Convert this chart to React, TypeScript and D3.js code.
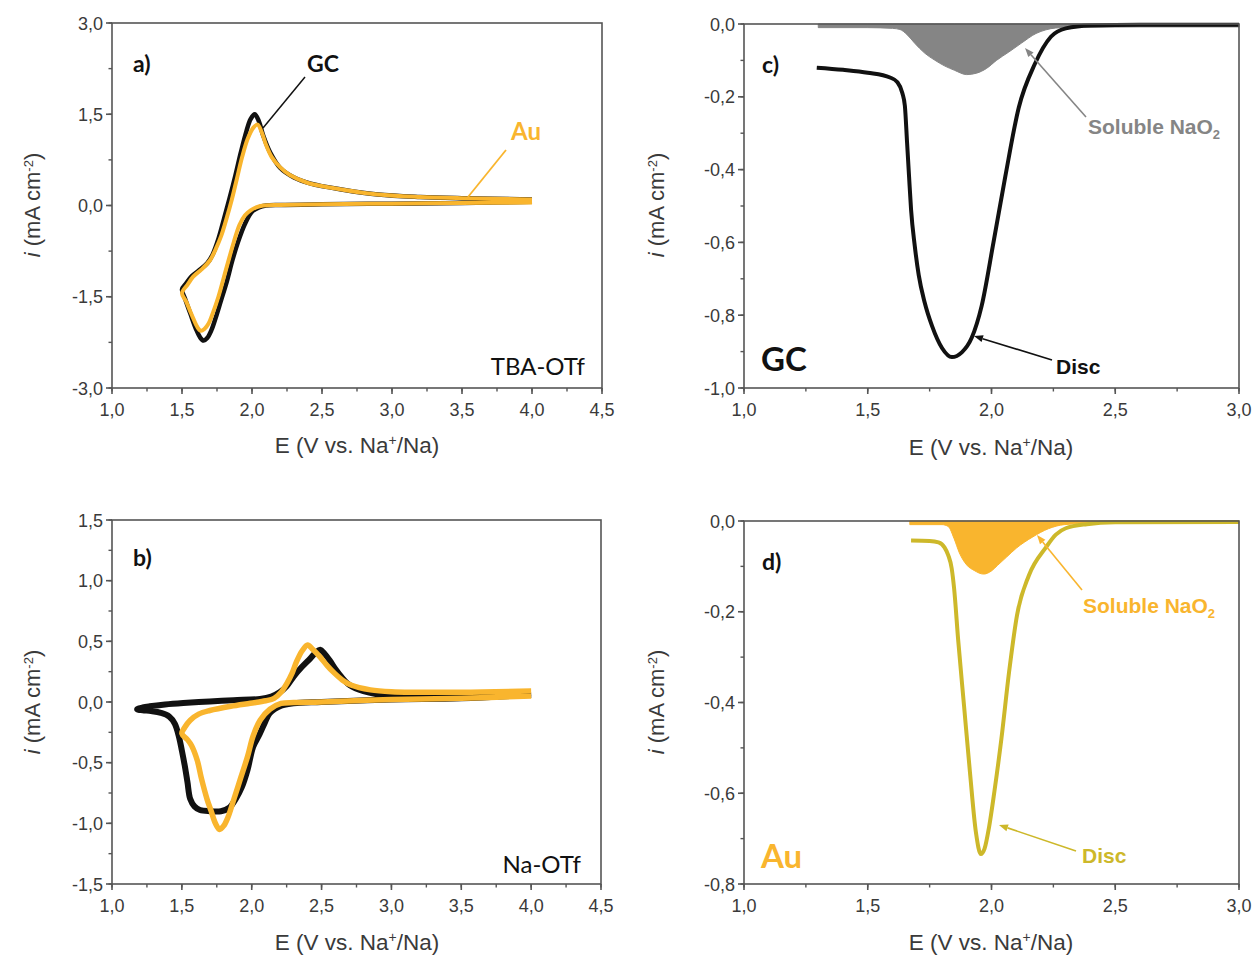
import React from "react";
import * as d3 from "d3";

// ---------------- DATA ----------------
// Panel a (TBA-OTf) CV loops: [E, i]
const aGC: [number, number][] = [
  [4.0, 0.06], [3.5, 0.04], [3.0, 0.03], [2.5, 0.02], [2.2, 0.01], [2.1, 0.0], [2.05, -0.03],
  [2.0, -0.1], [1.95, -0.3], [1.9, -0.6], [1.86, -0.9], [1.82, -1.25], [1.78, -1.55], [1.74, -1.85],
  [1.71, -2.05], [1.68, -2.18], [1.655, -2.22], [1.63, -2.17], [1.6, -2.03], [1.56, -1.78], [1.52, -1.52], [1.5, -1.38],
  [1.53, -1.28], [1.57, -1.16], [1.62, -1.07], [1.68, -0.95], [1.72, -0.8], [1.76, -0.55], [1.8, -0.22],
  [1.84, 0.12], [1.88, 0.48], [1.92, 0.87], [1.96, 1.22], [1.99, 1.42], [2.02, 1.5], [2.05, 1.38],
  [2.08, 1.15], [2.13, 0.87], [2.2, 0.62], [2.3, 0.46], [2.42, 0.36], [2.65, 0.26], [2.9, 0.18],
  [3.2, 0.14], [3.5, 0.12], [4.0, 0.1],
];
const aAu: [number, number][] = [
  [4.0, 0.05], [3.5, 0.04], [3.0, 0.03], [2.5, 0.02], [2.2, 0.01], [2.08, 0.0], [2.03, -0.03],
  [1.99, -0.08], [1.95, -0.16], [1.91, -0.32], [1.87, -0.6], [1.84, -0.84], [1.8, -1.17], [1.76, -1.5],
  [1.72, -1.77], [1.69, -1.94], [1.66, -2.03], [1.635, -2.06], [1.61, -2.0], [1.57, -1.8], [1.53, -1.58], [1.5, -1.44],
  [1.54, -1.3], [1.58, -1.17], [1.64, -1.05], [1.7, -0.9], [1.74, -0.72], [1.78, -0.5], [1.82, -0.2],
  [1.855, 0.09], [1.89, 0.42], [1.93, 0.8], [1.97, 1.1], [2.01, 1.28], [2.04, 1.33], [2.07, 1.2],
  [2.1, 1.0], [2.14, 0.8], [2.2, 0.63], [2.27, 0.5], [2.4, 0.37], [2.65, 0.26], [2.9, 0.18],
  [3.2, 0.14], [3.5, 0.12], [4.0, 0.1],
];

// Panel b (Na-OTf) CV loops
const bGC: [number, number][] = [
  [4.0, 0.06], [3.5, 0.03], [3.0, 0.02], [2.5, 0.0], [2.3, -0.01], [2.21, -0.03], [2.13, -0.09],
  [2.09, -0.18], [2.05, -0.28], [2.01, -0.37], [1.97, -0.56], [1.93, -0.7], [1.89, -0.79], [1.84, -0.87],
  [1.78, -0.9], [1.7, -0.9], [1.63, -0.89], [1.59, -0.86], [1.56, -0.8], [1.54, -0.66], [1.52, -0.52],
  [1.5, -0.4], [1.48, -0.29], [1.45, -0.18], [1.41, -0.12], [1.35, -0.09], [1.28, -0.075], [1.22, -0.068], [1.18, -0.06],
  [1.22, -0.045], [1.27, -0.035], [1.38, -0.02], [1.51, -0.008], [1.7, 0.005], [1.87, 0.015], [2.06, 0.025],
  [2.14, 0.045], [2.2, 0.08], [2.25, 0.13], [2.3, 0.21], [2.36, 0.29], [2.42, 0.36], [2.46, 0.41],
  [2.49, 0.43], [2.52, 0.4], [2.56, 0.34], [2.6, 0.27], [2.64, 0.21], [2.7, 0.14], [2.8, 0.09],
  [3.0, 0.05], [3.5, 0.04], [4.0, 0.07],
];
const bAu: [number, number][] = [
  [4.0, 0.05], [3.5, 0.03], [3.0, 0.02], [2.5, 0.0], [2.3, -0.005], [2.21, -0.012], [2.13, -0.06],
  [2.06, -0.15], [2.01, -0.28], [1.97, -0.45], [1.92, -0.63], [1.87, -0.81], [1.83, -0.95], [1.8, -1.02],
  [1.77, -1.05], [1.74, -1.0], [1.71, -0.9], [1.68, -0.8], [1.64, -0.63], [1.61, -0.48], [1.57, -0.36],
  [1.54, -0.31], [1.5, -0.26],
  [1.52, -0.21], [1.56, -0.15], [1.62, -0.1], [1.7, -0.07], [1.85, -0.035], [1.99, -0.01], [2.1, 0.01],
  [2.16, 0.03], [2.21, 0.08], [2.25, 0.15], [2.29, 0.24], [2.32, 0.33], [2.36, 0.42], [2.4, 0.47],
  [2.44, 0.43], [2.49, 0.37], [2.54, 0.3], [2.59, 0.24], [2.65, 0.18], [2.71, 0.14], [2.85, 0.1],
  [3.0, 0.085], [3.5, 0.08], [4.0, 0.09],
];

// Panel c (GC RRDE)
const cDisc: [number, number][] = [
  [1.294, -0.12], [1.4, -0.126], [1.5, -0.134], [1.59, -0.147], [1.62, -0.16], [1.64, -0.19],
  [1.65, -0.225], [1.659, -0.327], [1.667, -0.42], [1.675, -0.51], [1.69, -0.61], [1.706, -0.69],
  [1.73, -0.765], [1.76, -0.83], [1.8, -0.89], [1.84, -0.915], [1.88, -0.902], [1.92, -0.862],
  [1.96, -0.775], [2.008, -0.6], [2.056, -0.418], [2.11, -0.23], [2.175, -0.11], [2.24, -0.035],
  [2.3, -0.012], [2.4, -0.004], [2.6, -0.002], [3.0, -0.002],
];
const cSoluble: [number, number][] = [
  [1.3, -0.01], [1.5, -0.01], [1.6, -0.012], [1.63, -0.015], [1.66, -0.03], [1.69, -0.053],
  [1.73, -0.08], [1.77, -0.099], [1.81, -0.115], [1.85, -0.127], [1.9, -0.139], [1.94, -0.135],
  [1.98, -0.122], [2.02, -0.1], [2.07, -0.077], [2.12, -0.053], [2.18, -0.026], [2.22, -0.016],
  [2.26, -0.011], [2.35, -0.009], [2.6, -0.008], [3.0, -0.008],
];

// Panel d (Au RRDE)
const dDisc: [number, number][] = [
  [1.675, -0.043], [1.75, -0.044], [1.786, -0.047], [1.81, -0.058], [1.825, -0.075], [1.839, -0.104],
  [1.849, -0.149], [1.865, -0.26], [1.889, -0.407], [1.913, -0.554], [1.937, -0.686], [1.957, -0.734],
  [1.972, -0.722], [1.99, -0.675], [2.012, -0.595], [2.04, -0.48], [2.071, -0.333], [2.103, -0.208], [2.151, -0.12],
  [2.22, -0.058], [2.26, -0.03], [2.3, -0.016], [2.385, -0.007], [2.5, -0.003], [3.0, -0.002],
];
const dSoluble: [number, number][] = [
  [1.67, -0.008], [1.8, -0.008], [1.825, -0.012], [1.849, -0.039], [1.87, -0.07], [1.9, -0.097],
  [1.93, -0.109], [1.968, -0.117], [2.0, -0.11], [2.024, -0.098], [2.06, -0.08], [2.1, -0.06],
  [2.167, -0.035], [2.23, -0.017], [2.294, -0.008], [2.4, -0.005], [3.0, -0.005],
];

// Ticks
const xTicksAB = [1.0, 1.5, 2.0, 2.5, 3.0, 3.5, 4.0, 4.5];
const xTickLabelsAB = ["1,0", "1,5", "2,0", "2,5", "3,0", "3,5", "4,0", "4,5"];
const xTicksCD = [1.0, 1.5, 2.0, 2.5, 3.0];
const xTickLabelsCD = ["1,0", "1,5", "2,0", "2,5", "3,0"];
const yTicksA = [-3.0, -1.5, 0.0, 1.5, 3.0];
const yTickLabelsA = ["-3,0", "-1,5", "0,0", "1,5", "3,0"];
const yTicksB = [-1.5, -1.0, -0.5, 0.0, 0.5, 1.0, 1.5];
const yTickLabelsB = ["-1,5", "-1,0", "-0,5", "0,0", "0,5", "1,0", "1,5"];
const yTicksC = [-1.0, -0.8, -0.6, -0.4, -0.2, 0.0];
const yTickLabelsC = ["-1,0", "-0,8", "-0,6", "-0,4", "-0,2", "0,0"];
const yTicksD = [-0.8, -0.6, -0.4, -0.2, 0.0];
const yTickLabelsD = ["-0,8", "-0,6", "-0,4", "-0,2", "0,0"];

// ---------------- STYLE ----------------
const BLACK = "#111111";
const ORANGE = "#F9B52E";
const OLIVE = "#CDB82A";
const GRAY = "#858585";
const AXIS = "#555555";
const TICKTXT = "#3a3a3a";
const ARIAL = "'Liberation Sans', Arial, sans-serif";
const CAL = "Lato, 'Open Sans', sans-serif";

type Scale = d3.ScaleLinear<number, number>;

function Frame({ x, y, xTicks, xLabels, yTicks, yLabels, xMinorStep, yMinorStep }: {
  x: Scale; y: Scale; xTicks: number[]; xLabels: string[]; yTicks: number[]; yLabels: string[];
  xMinorStep: number; yMinorStep: number;
}) {
  const [x0, x1] = x.range();
  const [yb, yt] = y.range();
  const [dx0, dx1] = x.domain();
  const [dy0, dy1] = y.domain();
  const xMinor: number[] = [];
  for (let v = dx0; v <= dx1 + 1e-9; v += xMinorStep) xMinor.push(v);
  const yMinor: number[] = [];
  for (let v = dy0; v <= dy1 + 1e-9; v += yMinorStep) yMinor.push(v);
  return (
    <g>
      <rect x={x0} y={yt} width={x1 - x0} height={yb - yt} fill="none" stroke={AXIS} strokeWidth={1.6} />
      {xMinor.map((v, i) => (
        <line key={"xm" + i} x1={x(v)} x2={x(v)} y1={yb} y2={yb + 3.5} stroke={AXIS} strokeWidth={1.4} />
      ))}
      {xTicks.map((v, i) => (
        <g key={"xt" + i}>
          <line x1={x(v)} x2={x(v)} y1={yb} y2={yb + 6} stroke={AXIS} strokeWidth={1.6} />
          <text x={x(v)} y={yb + 28} textAnchor="middle" fontFamily={ARIAL} fontSize={18} fill={TICKTXT}>{xLabels[i]}</text>
        </g>
      ))}
      {yMinor.map((v, i) => (
        <line key={"ym" + i} x1={x0 - 3.5} x2={x0} y1={y(v)} y2={y(v)} stroke={AXIS} strokeWidth={1.4} />
      ))}
      {yTicks.map((v, i) => (
        <g key={"yt" + i}>
          <line x1={x0 - 6} x2={x0} y1={y(v)} y2={y(v)} stroke={AXIS} strokeWidth={1.6} />
          <text x={x0 - 9} y={y(v) + 6.5} textAnchor="end" fontFamily={ARIAL} fontSize={18} fill={TICKTXT}>{yLabels[i]}</text>
        </g>
      ))}
    </g>
  );
}

function XTitle({ cx, y }: { cx: number; y: number }) {
  return (
    <text x={cx} y={y} textAnchor="middle" fontFamily={ARIAL} fontSize={22.5} fill={TICKTXT}>
      E (V vs. Na<tspan baselineShift="super" fontSize={14}>+</tspan>/Na)
    </text>
  );
}

function YTitle({ x, cy }: { x: number; cy: number }) {
  return (
    <text transform={`translate(${x},${cy}) rotate(-90)`} textAnchor="middle" fontFamily={ARIAL} fontSize={22} fill={TICKTXT}>
      <tspan fontStyle="italic">i</tspan> (mA cm<tspan baselineShift="super" fontSize={13}>-2</tspan>)
    </text>
  );
}

function Arrow({ x1, y1, x2, y2, color }: { x1: number; y1: number; x2: number; y2: number; color: string }) {
  const ang = Math.atan2(y2 - y1, x2 - x1);
  const L = 9, W = 3.5;
  const bx = x2 - L * Math.cos(ang), by = y2 - L * Math.sin(ang);
  const px = -Math.sin(ang) * W, py = Math.cos(ang) * W;
  return (
    <g>
      <line x1={x1} y1={y1} x2={bx} y2={by} stroke={color} strokeWidth={1.6} />
      <path d={`M${x2},${y2}L${bx + px},${by + py}L${bx - px},${by - py}Z`} fill={color} />
    </g>
  );
}

export default function App() {
  // scales
  const xA = d3.scaleLinear().domain([1, 4.5]).range([112, 602]);
  const yA = d3.scaleLinear().domain([-3, 3]).range([388, 23]);
  const xB = d3.scaleLinear().domain([1, 4.5]).range([112, 601]);
  const yB = d3.scaleLinear().domain([-1.5, 1.5]).range([884, 520]);
  const xC = d3.scaleLinear().domain([1, 3]).range([744, 1239]);
  const yC = d3.scaleLinear().domain([-1, 0]).range([388, 24]);
  const xD = d3.scaleLinear().domain([1, 3]).range([744, 1239]);
  const yD = d3.scaleLinear().domain([-0.8, 0]).range([884, 521]);

  const loopFor = (x: Scale, y: Scale) =>
    d3.line<[number, number]>().x((d) => x(d[0])).y((d) => y(d[1])).curve(d3.curveCatmullRom.alpha(0.5));
  const sweepFor = (x: Scale, y: Scale) =>
    d3.line<[number, number]>().x((d) => x(d[0])).y((d) => y(d[1])).curve(d3.curveMonotoneX);
  const areaFor = (x: Scale, y: Scale) =>
    d3.area<[number, number]>().x((d) => x(d[0])).y0(() => y(0)).y1((d) => y(d[1])).curve(d3.curveMonotoneX);

  const lA = loopFor(xA, yA);
  const lB = loopFor(xB, yB);
  const lC = sweepFor(xC, yC);
  const lD = sweepFor(xD, yD);

  return (
    <svg width={1255} height={957} style={{ position: "absolute", left: 0, top: 0, background: "#fff" }}>
      {/* Panel a */}
      <path d={lA(aGC) || ""} fill="none" stroke={BLACK} strokeWidth={4.5} strokeLinejoin="round" />
      <path d={lA(aAu) || ""} fill="none" stroke={ORANGE} strokeWidth={4} strokeLinejoin="round" />
      <Frame x={xA} y={yA} xTicks={xTicksAB} xLabels={xTickLabelsAB} yTicks={yTicksA} yLabels={yTickLabelsA} xMinorStep={0.25} yMinorStep={0.75} />
      <text x={133} y={72} fontFamily={CAL} fontWeight="bold" fontSize={23} fill="#111">a)</text>
      <text x={307} y={72} fontFamily={CAL} fontWeight="bold" fontSize={23} fill="#111">GC</text>
      <line x1={263} y1={128} x2={305} y2={77} stroke="#111" strokeWidth={1.5} />
      <text x={511} y={140} fontFamily={CAL} fontWeight="bold" fontSize={24} fill={ORANGE}>Au</text>
      <line x1={468} y1={197} x2={506} y2={150} stroke={ORANGE} strokeWidth={1.8} />
      <text x={585} y={375} textAnchor="end" fontFamily={CAL} fontSize={24} fill="#111">TBA-OTf</text>
      <XTitle cx={357} y={453} />
      <YTitle x={40} cy={205} />

      {/* Panel b */}
      <path d={lB(bGC) || ""} fill="none" stroke={BLACK} strokeWidth={6} strokeLinejoin="round" />
      <path d={lB(bAu) || ""} fill="none" stroke={ORANGE} strokeWidth={5.5} strokeLinejoin="round" />
      <Frame x={xB} y={yB} xTicks={xTicksAB} xLabels={xTickLabelsAB} yTicks={yTicksB} yLabels={yTickLabelsB} xMinorStep={0.25} yMinorStep={0.25} />
      <text x={133} y={566} fontFamily={CAL} fontWeight="bold" fontSize={23} fill="#111">b)</text>
      <text x={581} y={873} textAnchor="end" fontFamily={CAL} fontSize={24} fill="#111">Na-OTf</text>
      <XTitle cx={357} y={950} />
      <YTitle x={40} cy={702} />

      {/* Panel c */}
      <path d={areaFor(xC, yC)(cSoluble) || ""} fill={GRAY} stroke={GRAY} strokeWidth={1} />
      <path d={lC(cDisc) || ""} fill="none" stroke={BLACK} strokeWidth={4} strokeLinejoin="round" />
      <Frame x={xC} y={yC} xTicks={xTicksCD} xLabels={xTickLabelsCD} yTicks={yTicksC} yLabels={yTickLabelsC} xMinorStep={0.25} yMinorStep={0.1} />
      <text x={762} y={73} fontFamily={CAL} fontWeight="bold" fontSize={23} fill="#111">c)</text>
      <text x={761} y={371} fontFamily={CAL} fontWeight="bold" fontSize={33} fill="#111">GC</text>
      <text x={1056} y={374} fontFamily={ARIAL} fontWeight="bold" fontSize={21} fill="#111">Disc</text>
      <Arrow x1={1052} y1={360} x2={974} y2={336} color="#111" />
      <text x={1088} y={134} fontFamily={ARIAL} fontWeight="bold" fontSize={21} fill={GRAY}>
        Soluble NaO<tspan fontSize={13} dy={5}>2</tspan>
      </text>
      <Arrow x1={1086} y1={117} x2={1025} y2={48} color={GRAY} />
      <XTitle cx={991} y={455} />
      <YTitle x={664} cy={205} />

      {/* Panel d */}
      <path d={areaFor(xD, yD)(dSoluble) || ""} fill={ORANGE} stroke={ORANGE} strokeWidth={1} />
      <path d={lD(dDisc) || ""} fill="none" stroke={OLIVE} strokeWidth={4} strokeLinejoin="round" />
      <Frame x={xD} y={yD} xTicks={xTicksCD} xLabels={xTickLabelsCD} yTicks={yTicksD} yLabels={yTickLabelsD} xMinorStep={0.25} yMinorStep={0.1} />
      <text x={762} y={570} fontFamily={CAL} fontWeight="bold" fontSize={23} fill="#111">d)</text>
      <text x={761} y={868} fontFamily={CAL} fontWeight="bold" fontSize={33} fill={ORANGE}>Au</text>
      <text x={1082} y={863} fontFamily={ARIAL} fontWeight="bold" fontSize={21} fill={OLIVE}>Disc</text>
      <Arrow x1={1076} y1={851} x2={999} y2={825} color={OLIVE} />
      <text x={1083} y={613} fontFamily={ARIAL} fontWeight="bold" fontSize={21} fill={ORANGE}>
        Soluble NaO<tspan fontSize={13} dy={5}>2</tspan>
      </text>
      <Arrow x1={1082} y1={590} x2={1037} y2={535} color={ORANGE} />
      <XTitle cx={991} y={950} />
      <YTitle x={664} cy={702} />
    </svg>
  );
}
